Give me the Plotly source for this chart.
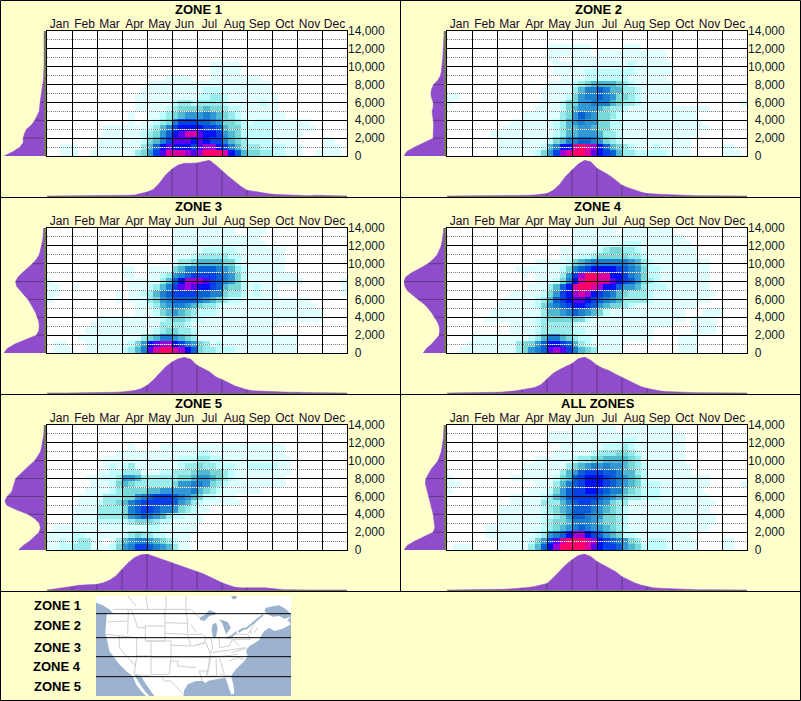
"""
Elevation / month density panels per zone, with side profiles and a zone map.
"""

import plotly.graph_objects as go

# ── Shared values ──────────────────────────────────────────────────────────────

MONTHS = ["Jan", "Feb", "Mar", "Apr", "May", "Jun", "Jul", "Aug", "Sep", "Oct", "Nov", "Dec"]
Y_TICKS = [0, 2000, 4000, 6000, 8000, 10000, 12000, 14000]
Y_LABELS = ["\u00a0\u00a00", "\u00a0\u00a02,000", "\u00a0\u00a04,000", "\u00a0\u00a06,000",
            "\u00a0\u00a08,000", "10,000", "12,000", "14,000"]
LEVEL_COLORS = ["#ffffff", "#e0ffff", "#c0ffff", "#98ecec", "#78d8d8", "#50b8d0", "#3098d4", "#1c80d0",
                "#0860d4", "#0640e6", "#0010f4", "#5800f0", "#a000d8", "#d800a0", "#ff0068"]
BG = "#ffffcc"
PURPLE = "#8f4ccb"
MARK = "#5e3a80"
BASE = "#77775c"
WATER = "#9bb3cf"
FONT = "Liberation Sans, Arial, sans-serif"

# ── Density grids: one row per 700 ft from the ground up, one column per week ──

ZONE_1 = [
    "0011 1001 1111 1134 69bd ddcb ceee da85 4433 2211 1001 1110",
    "0011 1000 1111 1113 58ab aaa9 bcca 9753 3322 2211 1000 1110",
    "0000 0000 1111 1112 4579 bbba ba99 7543 2222 1111 0000 1100",
    "0000 0000 0111 1112 3468 abdd baa9 6542 2222 1111 1000 0000",
    "0000 0000 0111 1111 2357 9aaa a998 5442 2222 1111 1110 0000",
    "0000 0000 0000 0101 1234 7999 8876 4432 1222 1111 1100 0000",
    "0000 0000 0000 0100 1123 4566 6765 4321 1111 1100 0000 0000",
    "0000 0000 0000 0011 1112 3444 4544 3221 1111 1000 0000 0000",
    "0000 0000 0000 0011 1111 2332 3333 2111 1121 1000 0000 0000",
    "0000 0000 0000 0011 1111 1111 2233 2111 1111 1000 0000 0000",
    "0000 0000 0000 0001 1111 1111 1222 1111 1111 0000 0000 0000",
    "0000 0000 0000 0000 1111 1111 1111 1111 1111 0000 0000 0000",
    "0000 0000 0000 0000 0001 1110 0011 1111 1100 0000 0000 0000",
    "0000 0000 0000 0000 0000 0000 0011 1110 0000 0000 0000 0000",
    "0000 0000 0000 0000 0000 0000 0011 1110 0000 0000 0000 0000",
]
ZONE_2 = [
    "0000 0000 1111 1124 69cd eedb a985 3322 2221 1110 0000 1110",
    "0000 0000 1111 1112 57aa dedc a854 3211 1211 1110 0000 1100",
    "0000 0000 1111 1111 2457 7887 6432 1111 1111 1110 0000 0000",
    "0000 0001 1111 1111 1235 5666 5332 1111 1111 1111 0000 0000",
    "0000 0000 0111 1111 1235 5665 4422 1111 1111 1111 1100 0000",
    "0000 0000 0011 1111 1235 6766 4422 1111 1111 1111 1000 0000",
    "0000 0000 0000 1111 1134 6876 4432 1111 1111 1111 0000 0000",
    "0000 0000 0000 0011 1124 5666 5433 2111 1111 1111 1100 0000",
    "1000 0000 0000 0001 1124 4667 7754 3321 1111 0000 0000 0001",
    "1100 0000 0000 0001 1112 4677 8764 4321 1111 0000 0000 0000",
    "0000 0000 0000 0001 1111 3577 8755 3321 1111 0000 0000 0000",
    "0000 0000 0000 0000 1111 2345 5554 3211 1111 0000 0000 0000",
    "0000 0000 0000 0000 0011 1122 2222 2111 1110 0000 0000 0000",
    "0000 0000 0000 0000 0111 1122 2222 2211 1111 0000 0000 0000",
    "0000 0000 0000 0000 0111 1111 1111 1211 1111 0000 0000 0000",
    "0000 0000 0000 0000 1100 1111 1111 1111 1110 0000 0000 0000",
    "0000 0000 0000 0000 1111 1110 1111 1111 1110 0000 0000 0000",
    "0000 0000 0000 0000 1111 1110 0000 1110 0000 0000 0000 0000",
]
ZONE_3 = [
    "0111 0011 1111 2357 bdee dca8 4332 2211 1111 1111 0000 0000",
    "0110 0011 1111 1246 abcc a976 4312 1111 1111 1111 0000 0000",
    "0000 0111 1111 1113 4577 6543 1111 1111 1111 1111 0000 0000",
    "0000 0011 1111 1111 1234 4332 1111 1111 1111 0000 0000 0000",
    "0000 0001 1111 1111 1133 3321 1111 1111 1111 1000 0000 0000",
    "0000 0000 1111 1111 1123 4432 2111 1111 1111 1111 1111 0000",
    "0000 0000 0000 0011 1245 6543 2221 1111 1111 1111 1111 0000",
    "0000 0000 0000 0011 2356 7765 4332 1111 1111 1111 1110 0000",
    "1000 0000 0001 0111 3467 8888 7654 3221 1111 1111 1100 0000",
    "1100 0000 0001 0112 3578 9999 8877 4332 1211 1000 0000 0001",
    "1100 1000 0000 0111 2357 9bcb aa98 5442 1211 1000 0000 0001",
    "1000 0000 0000 0111 1135 8acc cb98 7642 1111 1111 1000 0001",
    "0000 0000 0000 1100 1123 6789 9998 7642 1111 1111 0000 0000",
    "0000 0000 0000 1100 1111 4577 8887 6532 1111 1100 0000 0000",
    "0000 0000 0000 0000 0000 1334 5555 4421 1111 1100 0000 0000",
    "0000 0000 0000 0000 0000 1112 3333 3221 1111 1100 0000 0000",
    "0000 0000 0000 0000 0000 1111 1222 2211 1111 1100 0000 0000",
    "0000 0000 0000 0000 0000 1111 1111 1111 1110 0000 0000 0000",
    "0000 0000 0000 0000 0000 1111 1111 1111 1100 0000 0000 0000",
    "0000 0000 0000 0000 0000 1111 1111 1100 1110 0000 0000 0000",
]
ZONE_4 = [
    "0011 1111 1113 4678 bcb9 7543 1111 0000 0000 0111 0000 0000",
    "0001 1111 1113 4468 aa98 5321 1111 0000 0000 0111 0000 0000",
    "0000 1111 1111 1235 7754 3221 1111 1111 1000 0111 0000 0000",
    "0000 0000 0011 1123 3333 2211 1111 1111 1000 0001 1110 0000",
    "0000 0000 0011 1123 3333 2111 1111 1111 1111 0001 1110 0000",
    "0000 0011 1111 1123 4444 4421 1111 1111 1111 1101 1110 0000",
    "0000 0001 1111 1113 5567 8765 4211 1111 1111 1100 0111 0000",
    "0000 0000 1111 1124 6789 aa98 6544 3211 1111 1111 0000 0000",
    "0000 0000 0111 1123 589a bba9 8765 3333 2111 1111 1100 0000",
    "0000 0000 0011 1112 469a cdca 9875 4333 2111 1111 1110 0000",
    "0000 0000 0000 0111 358a deed caa8 6653 2221 1111 1100 0000",
    "0000 0000 0000 0011 1247 adee ddba 9864 3211 1111 1100 0000",
    "0000 0000 0000 1011 1136 9cee ddaa 9764 2211 1111 1100 0000",
    "0000 0000 0001 1111 1124 789a aaa9 8764 2211 1111 1100 0000",
    "0000 0000 0000 0011 1112 4567 7777 7653 2111 1111 1100 0000",
    "0000 0000 0000 0000 0011 1223 4444 4332 1111 1111 0000 0000",
    "0000 0000 0000 0000 0011 1111 2344 3321 1111 1111 0000 0000",
    "0000 0000 0000 0000 0000 1111 1111 2221 1111 1110 0000 0000",
    "0000 0000 0000 0000 0000 1111 1111 1111 1111 1100 0000 0000",
    "0000 0000 0000 0000 0000 1111 1110 1111 1111 0000 0000 0000",
]
ZONE_5 = [
    "1122 3331 1124 6799 8765 3110 0000 0000 0000 0000 0000 0000",
    "1121 2331 1013 5677 6543 2110 0000 0000 0000 0000 0000 0000",
    "1111 2211 1111 2343 3221 1110 0000 0000 0000 0000 0000 0000",
    "0111 1111 1111 1111 2211 1111 0000 0000 0000 0000 0000 0000",
    "0000 1111 2222 2344 4322 1111 1000 0000 0000 0000 0000 0000",
    "0000 1111 3333 4678 7653 2211 1000 0000 0000 0000 0000 0000",
    "0000 1111 3333 4789 9877 6432 1100 0000 0000 0000 0000 0000",
    "0000 0111 2334 5789 9999 8653 2111 1110 0000 0000 0000 0000",
    "0000 0111 1333 4467 8999 8765 4221 1100 0000 0000 0000 0000",
    "0000 0011 1123 4444 5566 6667 5432 1111 1100 0000 0000 0000",
    "0000 0001 1124 5433 3333 4667 7643 2111 1111 1100 0000 0000",
    "0000 0011 1223 6653 3333 3445 6654 3211 1111 1100 0000 0000",
    "0000 0000 1122 3331 1122 3334 5544 3211 1111 1110 0000 0000",
    "0000 0000 0121 2311 1111 1233 4332 2211 2222 2110 0000 0000",
    "0000 0000 0111 1111 1111 1222 3322 1111 1111 1110 0000 0000",
    "0000 0000 0001 1111 1111 1111 2211 1111 1111 1100 0000 0000",
    "0000 0000 0000 0100 0011 1111 1111 1111 1111 1100 0000 0000",
]
ALL_ZONES = [
    "0111 0000 1111 1358 acee eedb a998 6542 2221 1111 0000 1100",
    "0000 0000 1111 1246 9bde eedc a987 6431 2221 1111 0000 1100",
    "0000 0011 1111 1123 678a cca9 8654 2211 1111 1110 0000 0000",
    "0000 0011 1111 1112 3456 7876 6543 2111 1111 1111 1100 0000",
    "0000 0000 1111 1112 3445 7776 5443 2111 1111 1111 1110 0000",
    "0000 0000 1111 1112 2346 8876 6443 2111 1111 1111 1110 0000",
    "0000 0000 1111 1112 3456 8887 6543 2111 1111 1111 1100 0000",
    "0000 0000 0011 1113 3357 8998 7643 3111 1111 1111 1110 0000",
    "0000 0000 0011 1112 3568 9999 8765 4332 2211 1111 1100 0000",
    "1000 0000 0000 0111 2468 99aa 9877 5432 2211 1111 1000 0000",
    "1100 0000 0000 0011 1357 89aa a987 6542 2211 1111 1100 0001",
    "1000 0000 0011 1111 1245 89aa a987 6542 1111 1111 1100 0000",
    "0000 0000 0000 1111 1135 6899 9887 5532 1111 1110 0000 0000",
    "0000 0000 0000 1111 1113 4567 6766 5432 1111 1110 0000 0000",
    "0000 0000 0000 0011 1111 2334 4555 5431 1111 1100 0000 0000",
    "0000 0000 0000 0000 0111 1112 3334 4321 1111 1100 0000 0000",
    "0000 0000 0000 0000 0011 1111 1222 3211 1111 1100 0000 0000",
    "0000 0000 0000 0000 1111 1111 1111 2211 1111 1100 0000 0000",
    "0000 0000 0000 0000 1111 1111 1111 1111 1111 1100 0000 0000",
    "0000 0000 0000 0000 0000 1111 1110 1111 1111 0000 0000 0000",
]

# ── Elevation profiles: one value per 500 ft, share of the panel maximum ───────

ELEV_1 = [100, 77, 60, 52, 52, 49, 44, 31, 23, 17, 12, 11, 9, 7, 6.6, 5, 3, 1.6, 1, 0, 0, 0, 0, 0, 0, 0, 0, 0, 0]
ELEV_2 = [100, 93, 73, 48, 27, 27, 26, 26, 27, 29, 30, 27, 27, 31, 33, 31, 26, 15, 9, 6.6, 5, 4, 3, 2.5, 1.6, 1, 0.5, 0, 0]
ELEV_3 = [100, 92, 73, 48, 19, 13, 12, 13, 17, 21, 27, 34, 40, 50, 60, 69, 71, 65, 54, 41, 29, 19, 12, 9, 6, 4, 2.5, 1.6, 1]
ELEV_4 = [52, 44, 31, 21, 12, 11, 12, 17, 23, 31, 40, 50, 65, 79, 92, 98, 100, 96, 81, 60, 40, 27, 17, 12, 7, 5, 3, 1.6, 1]
ELEV_5 = [64, 52, 36, 23, 12, 9, 12, 23, 40, 69, 93, 98, 92, 81, 77, 74, 71, 60, 48, 36, 23, 17, 9, 6, 4, 1.6, 0.5, 0, 0]
ELEV_ALL = [100, 92, 73, 48, 27, 23, 24, 25, 27, 30, 33, 36, 38, 42, 45, 47, 45, 40, 33, 24, 15, 11, 7, 5, 3, 1.6, 1, 0.5, 0]

# ── Seasonal profiles: one value per week boundary, share of the panel maximum ─

SEASON_1 = [0, 0, 0, 0, 1, 1, 0, 0, 1, 1, 1, 1, 1, 2, 3, 6, 11, 18, 36, 59, 75, 86, 91, 91, 92, 96, 99, 86, 70, 55,
            41, 27, 16, 13, 10, 7, 5, 4, 3, 2, 2, 2, 1, 2, 2, 2, 1, 1, 0]
SEASON_2 = [0, 0, 0, 0, 0, 0, 0, 0, 0, 0, 1, 1, 1, 2, 3, 4, 7, 16, 32, 55, 73, 89, 99, 95, 77, 68, 57, 44, 30, 23,
            16, 11, 7, 5, 5, 4, 3, 2, 2, 2, 1, 1, 1, 1, 0, 0, 0, 0, 0]
SEASON_3 = [0, 1, 0, 0, 0, 0, 0, 1, 1, 1, 2, 2, 3, 4, 7, 12, 21, 36, 55, 73, 86, 95, 99, 94, 77, 68, 59, 45, 38, 29,
            20, 14, 9, 6, 5, 4, 3, 3, 2, 2, 2, 1, 1, 1, 1, 1, 0, 0, 0]
SEASON_4 = [0, 0, 0, 0, 0, 1, 1, 2, 2, 3, 4, 6, 9, 12, 15, 23, 38, 55, 65, 73, 82, 95, 100, 91, 77, 68, 62, 52, 43, 36,
            27, 18, 13, 9, 6, 4, 3, 3, 2, 2, 1, 1, 1, 1, 1, 0, 0, 0, 0]
SEASON_5 = [0, 2, 4, 6, 10, 13, 14, 15, 16, 20, 27, 39, 57, 76, 90, 98, 100, 94, 87, 81, 76, 69, 62, 56, 51, 45, 37, 28, 20, 14,
            8, 6, 6, 7, 8, 6, 4, 2, 1, 1, 0, 0, 0, 0, 0, 0, 0, 0, 0]
SEASON_ALL = [0, 0, 0, 0, 0, 0, 0, 1, 2, 2, 3, 4, 6, 7, 10, 14, 18, 34, 52, 70, 84, 96, 100, 93, 79, 70, 62, 51, 37, 28,
              20, 14, 9, 6, 5, 4, 3, 2, 2, 2, 1, 1, 1, 1, 1, 1, 0, 0, 0]

PANELS = [
    ("ZONE 1", ZONE_1, ELEV_1, SEASON_1, 0, 0),
    ("ZONE 2", ZONE_2, ELEV_2, SEASON_2, 400, 0),
    ("ZONE 3", ZONE_3, ELEV_3, SEASON_3, 0, 197),
    ("ZONE 4", ZONE_4, ELEV_4, SEASON_4, 400, 197),
    ("ZONE 5", ZONE_5, ELEV_5, SEASON_5, 0, 394),
    ("ALL ZONES", ALL_ZONES, ELEV_ALL, SEASON_ALL, 400, 394),
]

# ── Key map, traced in its own 585 x 300 frame ─────────────────────────────────

LAND = [
    (0, 0), (405, 0), (410, 10), (420, 8), (423, 0), (585, 0), (585, 62), (575, 72), (585, 85), (560, 98), (535, 105),
    (520, 95), (505, 105), (495, 120), (490, 132), (470, 145), (460, 150), (450, 165), (455, 180), (445, 195),
    (420, 220), (405, 240), (412, 265), (415, 290), (407, 297), (400, 280), (392, 255), (388, 245), (360, 250),
    (335, 255), (330, 262), (320, 255), (300, 255), (275, 265), (265, 282), (262, 300), (175, 300), (150, 265),
    (135, 240), (115, 236), (130, 262), (150, 290), (160, 300), (150, 300), (135, 285), (120, 265), (110, 240),
    (90, 225), (70, 205), (55, 185), (40, 165), (35, 140), (28, 110), (30, 85), (32, 55), (50, 50), (40, 40),
    (20, 28), (0, 20),
]
LAKES = [
    [(310, 65), (330, 55), (340, 42), (360, 50), (360, 55), (340, 60), (325, 75), (313, 72)],
    [(350, 85), (360, 80), (365, 95), (360, 125), (350, 122), (347, 100)],
    [(370, 70), (395, 78), (405, 95), (390, 115), (385, 100), (380, 85)],
    [(390, 125), (410, 115), (420, 105), (423, 110), (410, 122), (393, 128)],
    [(425, 105), (440, 95), (450, 95), (480, 70), (500, 55), (503, 58), (483, 75), (453, 100), (440, 103), (430, 110)],
    [(505, 45), (510, 35), (535, 30), (550, 28), (570, 40), (585, 55), (585, 62), (565, 68), (550, 60), (530, 62), (515, 55)],
]
BORDERS = [
    [(95, 0), (120, 30)], [(150, 0), (155, 40)], [(210, 0), (210, 40)], [(270, 0), (270, 40)],
    [(50, 40), (280, 42), (285, 40), (310, 65)],
    [(35, 78), (95, 75)], [(97, 42), (97, 75), (95, 115)], [(30, 115), (70, 120), (122, 125)],
    [(105, 42), (115, 65), (125, 95), (148, 95)],
    [(148, 90), (207, 90), (207, 135), (148, 135), (148, 90)],
    [(122, 125), (148, 125), (148, 135), (165, 135), (165, 180), (122, 180), (122, 125)],
    [(70, 120), (70, 155), (118, 210), (122, 180)],
    [(165, 135), (225, 135), (225, 185), (165, 185)],
    [(165, 185), (165, 235)], [(118, 210), (115, 235), (165, 240)],
    [(165, 235), (195, 235), (220, 235), (225, 185)],
    [(207, 42), (207, 90)], [(207, 80), (275, 82)], [(207, 112), (275, 115)], [(225, 148), (285, 150)],
    [(225, 185), (300, 185)], [(225, 195), (245, 195), (245, 210), (300, 215)],
    [(270, 42), (275, 82), (275, 115), (285, 150)],
    [(195, 238), (205, 255), (225, 255), (245, 275), (262, 295)],
    [(285, 85), (300, 110)], [(280, 115), (320, 115), (330, 125), (325, 140), (290, 150)],
    [(290, 150), (330, 140), (345, 180), (300, 185)],
    [(300, 185), (345, 185), (335, 225), (310, 225), (318, 255)], [(335, 225), (330, 240), (360, 240)],
    [(345, 170), (450, 155)], [(340, 185), (425, 175)],
    [(320, 125), (345, 125), (350, 160), (340, 170)], [(350, 125), (370, 125), (370, 155)],
    [(370, 125), (390, 125), (410, 130), (400, 150), (370, 155)], [(410, 130), (430, 150)],
    [(410, 115), (455, 115), (463, 130), (410, 130)], [(455, 115), (465, 100), (465, 115)],
    [(465, 100), (480, 75)], [(475, 110), (485, 95)],
    [(405, 170), (460, 155)], [(400, 195), (425, 185), (445, 190)],
    [(370, 185), (385, 235)], [(340, 185), (335, 235)], [(360, 185), (362, 240)], [(370, 235), (403, 240)],
]
ZONE_LINES = [53, 125, 182, 242]
KEY_LABELS = ["ZONE 1", "ZONE 2", "ZONE 3", "ZONE 4", "ZONE 5"]
KEY_LABEL_Y = [605, 625, 647, 666, 686]
FRAME_RULES = [197, 394, 591]


# ── Helpers ────────────────────────────────────────────────────────────────────

def dom_x(left, right):
    return [left / 801, right / 801]


def dom_y(top, bottom):
    return [1 - bottom / 701, 1 - top / 701]


def decode(rows):
    """Turn the hex strings into a 20 x 48 grid of colour levels."""
    grid = [[int(c, 16) for c in r.replace(" ", "").ljust(48, "0")[:48]] for r in rows]
    return grid + [[0] * 48 for _ in range(20 - len(grid))]


def flatten(paths):
    """Join polylines into x and y lists with gaps between them."""
    xs, ys = [], []
    for path in paths:
        xs += [p[0] for p in path] + [None]
        ys += [p[1] for p in path] + [None]
    return xs, ys


STEP_SCALE = []
for i, col in enumerate(LEVEL_COLORS):
    STEP_SCALE += [[i / len(LEVEL_COLORS), col], [(i + 1) / len(LEVEL_COLORS), col]]

fig = go.Figure()
layout = {}
next_axis = 2


def new_axes(xdef, ydef):
    """Register one x/y pair and return the trace references."""
    global next_axis
    n = next_axis
    next_axis += 1
    layout[f"xaxis{n}"] = dict(anchor=f"y{n}", **xdef)
    layout[f"yaxis{n}"] = dict(anchor=f"x{n}", **ydef)
    return f"x{n}", f"y{n}"


annotations = []

# ── Panels ─────────────────────────────────────────────────────────────────────

for title, rows, elev, season, ox, oy in PANELS:
    px = dom_x(ox + 47, ox + 347)
    py = dom_y(oy + 31, oy + 156)
    xr = [0, 12]
    yr = [0, 14000]

    # heatmap with month and elevation labels
    xa, ya = new_axes(
        dict(domain=px, range=xr, side="top", showgrid=False, zeroline=False, ticks="",
             tickmode="array", tickvals=[m + 0.5 for m in range(12)], ticktext=MONTHS,
             tickfont=dict(family=FONT, size=12, color="#1a0a2a"), ticklabelstandoff=0),
        dict(domain=py, range=yr, side="right", showgrid=False, zeroline=False, ticks="",
             tickmode="array", tickvals=Y_TICKS, ticktext=Y_LABELS,
             tickfont=dict(family=FONT, size=12, color="#0a1a2a")),
    )
    fig.add_trace(go.Heatmap(
        x=[(w + 0.5) / 4 for w in range(48)], y=[350 + 700 * r for r in range(20)], z=decode(rows),
        colorscale=STEP_SCALE, zmin=-0.5, zmax=14.5, showscale=False, hoverinfo="skip",
        xaxis=xa, yaxis=ya,
    ))

    # white under the dotted rules, so they read white on the dark cells
    xa, ya = new_axes(
        dict(domain=px, range=xr, visible=False),
        dict(domain=py, range=yr, showgrid=True, gridcolor="#ffffff", gridwidth=1, zeroline=False,
             tick0=1000, dtick=2000, showticklabels=False, ticks="", showline=False),
    )
    fig.add_trace(go.Scatter(x=[None], y=[None], xaxis=xa, yaxis=ya, hoverinfo="skip"))

    # black month and elevation rules on top
    xa, ya = new_axes(
        dict(domain=px, range=xr, showgrid=True, gridcolor="#000000", gridwidth=1, zeroline=False,
             tick0=0, dtick=1, showticklabels=False, ticks="", showline=True, linecolor="#000000",
             linewidth=1, mirror=True),
        dict(domain=py, range=yr, showgrid=True, gridcolor="#000000", gridwidth=1, zeroline=False,
             tick0=0, dtick=2000, showticklabels=False, ticks="", showline=True, linecolor="#000000",
             linewidth=1, mirror=True,
             minor=dict(tick0=0, dtick=1000, showgrid=True, gridcolor="#808080", gridwidth=1, griddash="1px,1px")),
    )
    fig.add_trace(go.Scatter(x=[None], y=[None], xaxis=xa, yaxis=ya, hoverinfo="skip"))

    # elevation profile, left of the grid
    heights = [500 * i for i in range(len(elev))]
    xa, ya = new_axes(
        dict(domain=dom_x(ox + 4, ox + 44), range=[100, 0], visible=False),
        dict(domain=py, range=yr, side="right", showgrid=False, zeroline=False, ticks="",
             showticklabels=False, showline=True, linecolor=BASE, linewidth=2),
    )
    fig.add_trace(go.Scatter(x=elev, y=heights, mode="lines", line=dict(color=PURPLE, width=0.5),
                             fill="tozerox", fillcolor=PURPLE, hoverinfo="skip", xaxis=xa, yaxis=ya))
    tick_x, tick_y = [], []
    for i in range(4, len(elev), 4):
        if elev[i] > 0:
            tick_x += [0, elev[i], None]
            tick_y += [heights[i], heights[i], None]
    fig.add_trace(go.Scatter(x=tick_x, y=tick_y, mode="lines", line=dict(color=MARK, width=1),
                             hoverinfo="skip", xaxis=xa, yaxis=ya))

    # seasonal profile, under the grid
    weeks = [i / 4 for i in range(len(season))]
    xa, ya = new_axes(
        dict(domain=px, range=xr, showgrid=False, zeroline=False, ticks="", showticklabels=False,
             showline=True, linecolor=BASE, linewidth=2),
        dict(domain=dom_y(oy + 160, oy + 196), range=[0, 100], visible=False),
    )
    fig.add_trace(go.Scatter(x=weeks, y=season, mode="lines", line=dict(color=PURPLE, width=0.5),
                             fill="tozeroy", fillcolor=PURPLE, hoverinfo="skip", xaxis=xa, yaxis=ya))
    tick_x, tick_y = [], []
    for i in range(4, len(season) - 1, 4):
        if season[i] > 1:
            tick_x += [weeks[i], weeks[i], None]
            tick_y += [0, season[i], None]
    fig.add_trace(go.Scatter(x=tick_x, y=tick_y, mode="lines", line=dict(color=MARK, width=1),
                             hoverinfo="skip", xaxis=xa, yaxis=ya))

    annotations.append(dict(
        text=f"<b>{title}</b>", xref="paper", yref="paper", x=(ox + 198) / 801, y=1 - (oy + 9) / 701,
        xanchor="center", yanchor="middle", showarrow=False, font=dict(family=FONT, size=13, color="#000000"),
    ))

# ── Key map ────────────────────────────────────────────────────────────────────

xa, ya = new_axes(
    dict(domain=dom_x(96, 291), range=[0, 585], visible=False),
    dict(domain=dom_y(596, 696), range=[300, 0], visible=False),
)
land_x, land_y = flatten([LAND + LAND[:1]])
fig.add_trace(go.Scatter(x=land_x, y=land_y, mode="none", fill="toself", fillcolor="#ffffff",
                         hoverinfo="skip", xaxis=xa, yaxis=ya))
border_x, border_y = flatten(BORDERS)
fig.add_trace(go.Scatter(x=border_x, y=border_y, mode="lines", line=dict(color="#cfcfcf", width=1),
                         hoverinfo="skip", xaxis=xa, yaxis=ya))
lake_x, lake_y = flatten([lake + lake[:1] for lake in LAKES])
fig.add_trace(go.Scatter(x=lake_x, y=lake_y, mode="none", fill="toself", fillcolor=WATER,
                         hoverinfo="skip", xaxis=xa, yaxis=ya))
line_x, line_y = flatten([[(0, y), (585, y)] for y in ZONE_LINES])
fig.add_trace(go.Scatter(x=line_x, y=line_y, mode="lines", line=dict(color="#000000", width=1),
                         hoverinfo="skip", xaxis=xa, yaxis=ya))

for label, y in zip(KEY_LABELS, KEY_LABEL_Y):
    annotations.append(dict(
        text=f"<b>{label}</b>", xref="paper", yref="paper", x=83 / 801, y=1 - y / 701,
        xanchor="right", yanchor="middle", showarrow=False, font=dict(family=FONT, size=13, color="#000000"),
    ))

# ── Frame ──────────────────────────────────────────────────────────────────────

shapes = [
    dict(type="rect", xref="paper", yref="paper", x0=96 / 801, x1=291 / 801, y0=1 - 696 / 701, y1=1 - 596 / 701,
         fillcolor=WATER, line=dict(width=0), layer="below"),
    dict(type="rect", xref="paper", yref="paper", x0=0.5 / 801, x1=800.5 / 801, y0=1 - 700.5 / 701, y1=1 - 0.5 / 701,
         line=dict(color="#000000", width=1)),
    dict(type="line", xref="paper", yref="paper", x0=400.5 / 801, x1=400.5 / 801, y0=1 - 591 / 701, y1=1,
         line=dict(color="#000000", width=1)),
]
for y in FRAME_RULES:
    shapes.append(dict(type="line", xref="paper", yref="paper", x0=0, x1=1, y0=1 - (y + 0.5) / 701, y1=1 - (y + 0.5) / 701,
                       line=dict(color="#000000", width=1)))

fig.update_layout(
    width=801, height=701, margin=dict(l=0, r=0, t=0, b=0, autoexpand=False),
    paper_bgcolor=BG, plot_bgcolor="rgba(0,0,0,0)",
    showlegend=False, annotations=annotations, shapes=shapes,
    font=dict(family=FONT), **layout,
)

fig.write_html("out.html", config={"displayModeBar": False},
               post_script="document.body.style.margin='0';document.documentElement.style.overflow='hidden';")
